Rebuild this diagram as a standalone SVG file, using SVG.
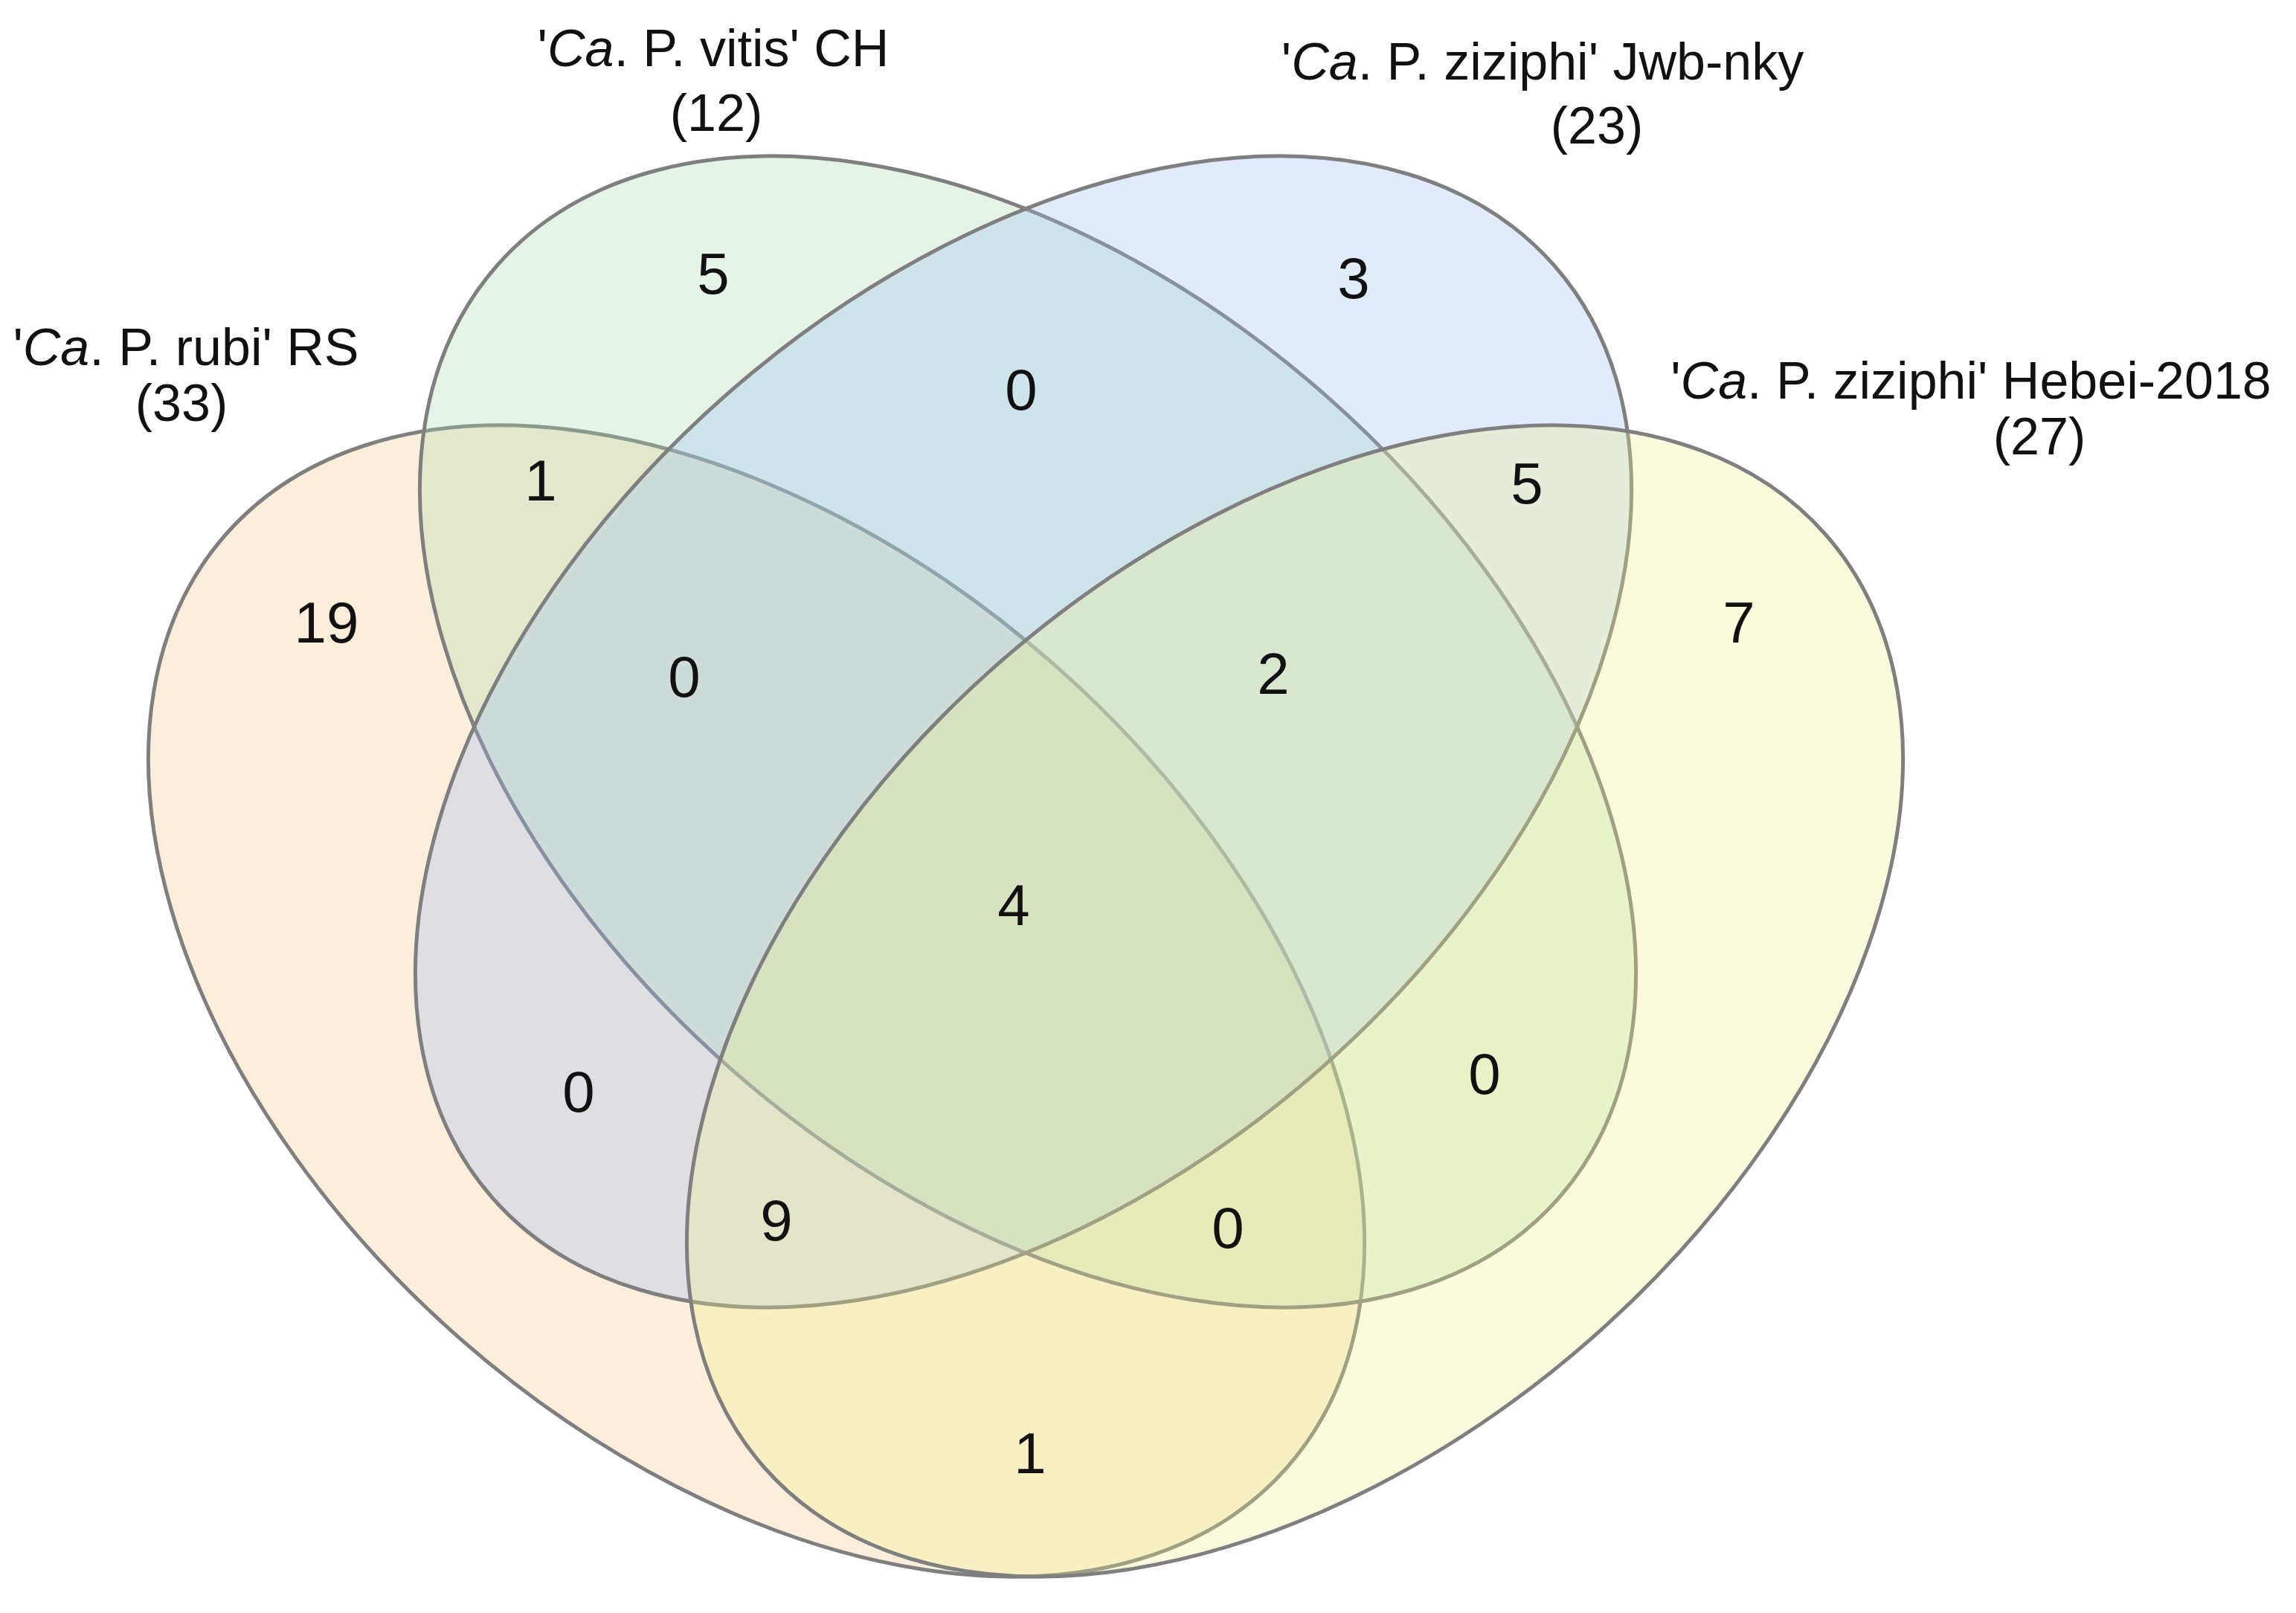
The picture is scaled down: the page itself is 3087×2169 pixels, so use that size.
<svg xmlns="http://www.w3.org/2000/svg" width="3087" height="2169" viewBox="0 0 3087 2169">
<style>
.e{stroke:#7f7f7f;stroke-width:5;fill-opacity:0.3}
.n{font-family:"Liberation Sans",Arial,sans-serif;font-size:78px;fill:#111;text-anchor:middle;dominant-baseline:central}
.l{font-family:"Liberation Sans",Arial,sans-serif;font-size:70px;fill:#111;text-anchor:middle;dominant-baseline:central}
</style>
<rect width="3087" height="2169" fill="#fff"/>
<g id="rubi"><ellipse class="e" cx="1017" cy="1346" rx="950" ry="604" transform="rotate(41.3 1017 1346)" fill="#f9c78a"/></g>
<g id="vitis"><ellipse class="e" cx="1382" cy="984" rx="950" ry="604" transform="rotate(41.3 1382 984)" fill="#a9dcab"/></g>
<g id="jwb"><ellipse class="e" cx="1376" cy="984" rx="950" ry="604" transform="rotate(-41.3 1376 984)" fill="#9dbdf5"/></g>
<g id="hebei"><ellipse class="e" cx="1741" cy="1346" rx="950" ry="604" transform="rotate(-41.3 1741 1346)" fill="#eef38a"/></g>
<g id="labels">
<text class="l" x="959" y="65">'<tspan font-style="italic">Ca</tspan>. P. vitis' CH</text>
<text class="l" x="963" y="152">(12)</text>
<text class="l" x="2074" y="83">'<tspan font-style="italic">Ca</tspan>. P. ziziphi' Jwb-nky</text>
<text class="l" x="2147" y="169">(23)</text>
<text class="l" x="250" y="467">'<tspan font-style="italic">Ca</tspan>. P. rubi' RS</text>
<text class="l" x="244" y="542">(33)</text>
<text class="l" x="2650" y="512">'<tspan font-style="italic">Ca</tspan>. P. ziziphi' Hebei-2018</text>
<text class="l" x="2742" y="587">(27)</text>
</g>
<g id="counts">
<text class="n" x="959" y="368">5</text>
<text class="n" x="1820" y="374">3</text>
<text class="n" x="1373" y="524">0</text>
<text class="n" x="727" y="646">1</text>
<text class="n" x="2053" y="650">5</text>
<text class="n" x="439" y="837">19</text>
<text class="n" x="2338" y="837">7</text>
<text class="n" x="920" y="910">0</text>
<text class="n" x="1712" y="906">2</text>
<text class="n" x="1363" y="1217">4</text>
<text class="n" x="778" y="1468">0</text>
<text class="n" x="1996" y="1444">0</text>
<text class="n" x="1044" y="1641">9</text>
<text class="n" x="1651" y="1651">0</text>
<text class="n" x="1385" y="1954">1</text>
</g>
<g id="connectors"></g>
</svg>
